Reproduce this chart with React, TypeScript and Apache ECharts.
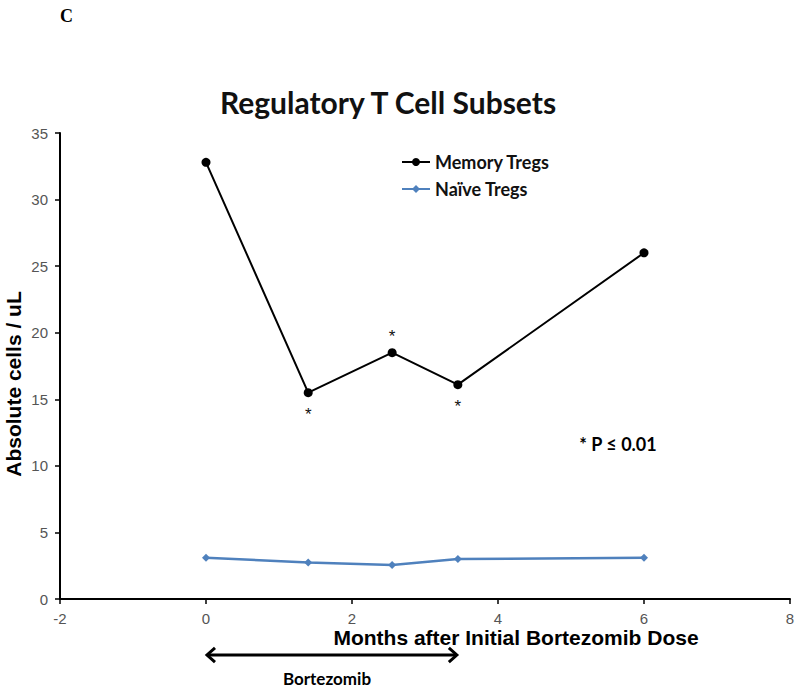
import React, { useEffect, useRef } from "react";
import * as echarts from "echarts";

const months = [0, 1.4, 2.55, 3.45, 6];
const memoryTregs = [32.8, 15.5, 18.5, 16.1, 26.0];
const naiveTregs = [3.1, 2.75, 2.55, 3.0, 3.1];
// significance marks per point ("" = none), and where they sit
const starMarks = ["", "*", "*", "*", ""];
const starPos = ["bottom", "bottom", "top", "bottom", "bottom"];
const bortezomibSpan = [0, 3.45];

const BLUE = "#4F81BD";

export default function App() {
  const ref = useRef<HTMLDivElement>(null);
  useEffect(() => {
    document.body.style.margin = "0";
    if (!ref.current) return;
    const chart = echarts.init(ref.current, null, { renderer: "svg" });
    const option: any = {
      animation: false,
      backgroundColor: "#ffffff",
      title: {
        text: "Regulatory T Cell Subsets",
        left: 383,
        top: 82,
        textAlign: "center",
        textStyle: { fontFamily: "Lato", fontWeight: "bold", fontSize: 30, color: "#111" },
      },
      grid: { left: 60, right: 10, top: 133, bottom: 91, containLabel: false },
      legend: {
        orient: "vertical",
        left: 396,
        top: 148,
        itemWidth: 28,
        itemHeight: 10,
        itemGap: 9,
        textStyle: { fontFamily: "Lato", fontWeight: "bold", fontSize: 18, color: "#111" },
        data: ["Memory Tregs", "Naïve Tregs"],
      },
      xAxis: {
        type: "value",
        min: -2,
        max: 8,
        interval: 2,
        axisLine: { onZero: false, lineStyle: { color: "#000", width: 2 } },
        axisTick: { show: true, length: 5, lineStyle: { color: "#000", width: 1.5 } },
        axisLabel: { color: "#555", fontFamily: "Liberation Sans", fontSize: 15, margin: 12 },
        splitLine: { show: false },
      },
      yAxis: {
        type: "value",
        min: 0,
        max: 35,
        interval: 5,
        axisLine: { show: true, onZero: false, lineStyle: { color: "#000", width: 2 } },
        axisTick: { show: true, length: 5, lineStyle: { color: "#000", width: 1.5 } },
        axisLabel: { color: "#555", fontFamily: "Liberation Sans", fontSize: 15, margin: 12 },
        splitLine: { show: false },
      },
      series: [
        {
          name: "Memory Tregs",
          type: "line",
          symbol: "circle",
          symbolSize: 9,
          itemStyle: { color: "#000" },
          lineStyle: { color: "#000", width: 2 },
          data: months.map((m, i) => ({
            value: [m, memoryTregs[i]],
            label: {
              show: starMarks[i] !== "",
              formatter: starMarks[i],
              position: starPos[i],
              distance: starPos[i] === "top" ? 3 : 9,
              fontSize: 17,
              fontFamily: "Liberation Sans",
              color: "#111",
            },
          })),
        },
        {
          name: "Naïve Tregs",
          type: "line",
          symbol: "diamond",
          symbolSize: 8,
          itemStyle: { color: BLUE },
          lineStyle: { color: BLUE, width: 2.5 },
          data: months.map((m, i) => [m, naiveTregs[i]]),
        },
      ],
    };
    chart.setOption(option);

    const p0 = chart.convertToPixel({ gridIndex: 0 }, [bortezomibSpan[0], 0]) as number[];
    const p1 = chart.convertToPixel({ gridIndex: 0 }, [bortezomibSpan[1], 0]) as number[];
    const ay = 655;
    const x0 = p0[0];
    const x1 = p1[0];
    const head = 9;
    chart.setOption({
      graphic: [
        {
          type: "text",
          left: 60,
          top: 7,
          style: { text: "C", font: "bold 18px 'Liberation Serif'", fill: "#000" },
        },
        {
          type: "text",
          x: 13,
          y: 384,
          rotation: Math.PI / 2,
          style: {
            text: "Absolute cells / uL",
            font: "bold 21px 'Liberation Sans'",
            fill: "#000",
            align: "center",
            verticalAlign: "middle",
          },
        },
        {
          type: "text",
          x: 516,
          y: 637,
          style: {
            text: "Months after Initial Bortezomib Dose",
            font: "bold 21px 'Liberation Sans'",
            fill: "#000",
            align: "center",
            verticalAlign: "middle",
          },
        },
        {
          type: "text",
          x: 618,
          y: 444,
          style: {
            text: "* P ≤ 0.01",
            font: "bold 18px Lato",
            fill: "#000",
            align: "center",
            verticalAlign: "middle",
          },
        },
        {
          type: "line",
          shape: { x1: x0 + 1, y1: ay, x2: x1 - 1, y2: ay },
          style: { stroke: "#000", lineWidth: 3 },
        },
        {
          type: "polyline",
          shape: { points: [[x0 + head, ay - head * 0.8], [x0 + 1, ay], [x0 + head, ay + head * 0.8]] },
          style: { stroke: "#000", lineWidth: 3, fill: "none" },
        },
        {
          type: "polyline",
          shape: { points: [[x1 - head, ay - head * 0.8], [x1 - 1, ay], [x1 - head, ay + head * 0.8]] },
          style: { stroke: "#000", lineWidth: 3, fill: "none" },
        },
        {
          type: "text",
          x: 327,
          y: 678,
          style: {
            text: "Bortezomib",
            font: "bold 17px Lato",
            fill: "#000",
            align: "center",
            verticalAlign: "middle",
          },
        },
      ],
    });
    return () => chart.dispose();
  }, []);
  return <div ref={ref} style={{ width: 800, height: 690 }} />;
}
